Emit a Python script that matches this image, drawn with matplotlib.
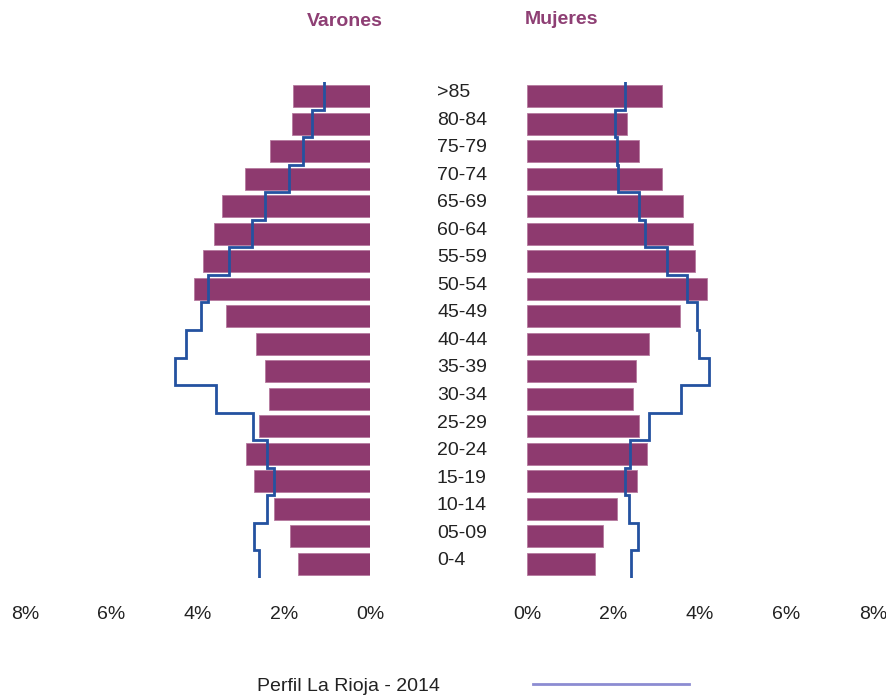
import numpy as np
import matplotlib
matplotlib.use('Agg')
import matplotlib.pyplot as plt
import matplotlib.transforms as mtransforms
from matplotlib.lines import Line2D

plt.rcParams['font.family'] = ['Liberation Sans', 'DejaVu Sans']

# grupos de edad, de abajo hacia arriba
edades = ['0-4', '05-09', '10-14', '15-19', '20-24', '25-29', '30-34', '35-39',
          '40-44', '45-49', '50-54', '55-59', '60-64', '65-69', '70-74',
          '75-79', '80-84', '>85']

# % de poblacion (barras)
varones = [1.67, 1.86, 2.23, 2.69, 2.88, 2.58, 2.34, 2.44, 2.65, 3.34,
           4.08, 3.87, 3.62, 3.43, 2.90, 2.32, 1.81, 1.79]
mujeres = [1.57, 1.76, 2.08, 2.55, 2.78, 2.59, 2.45, 2.52, 2.82, 3.54,
           4.17, 3.89, 3.84, 3.61, 3.13, 2.59, 2.31, 3.13]

# perfil de referencia (linea escalonada)
perfil_varones = [2.58, 2.69, 2.39, 2.23, 2.39, 2.71, 3.57, 4.52, 4.27, 3.92,
                  3.76, 3.27, 2.74, 2.44, 1.88, 1.55, 1.35, 1.07]
perfil_mujeres = [2.41, 2.57, 2.36, 2.27, 2.38, 2.82, 3.56, 4.21, 3.98, 3.93,
                  3.70, 3.24, 2.73, 2.59, 2.11, 2.08, 2.04, 2.27]

ticks = [0, 2, 4, 6, 8]
tick_labels = ['0%', '2%', '4%', '6%', '8%']

color_barra = '#8E3A6F'
color_linea = '#2452A0'
color_titulo = '#8E3F74'
color_texto = '#222222'

W, H = 886, 696
fig = plt.figure(figsize=(W / 100, H / 100), dpi=100)

y0 = 1 - 577.75 / H
alto = (577.75 - 82.25) / H
ax_v = fig.add_axes([25 / W, y0, 345 / W, alto])
ax_m = fig.add_axes([527 / W, y0, 346 / W, alto])

pos = np.arange(len(edades))


def escalon(valores):
    ys = np.column_stack([pos - 0.5, pos + 0.5]).ravel()
    xs = np.repeat(valores, 2)
    return xs, ys


for ax, datos, perfil in [(ax_v, varones, perfil_varones),
                          (ax_m, mujeres, perfil_mujeres)]:
    ax.barh(pos, datos, height=0.8, color=color_barra,
            edgecolor='#B67A9F', linewidth=0.6)
    xs, ys = escalon(perfil)
    ax.plot(xs, ys, color=color_linea, linewidth=2.0, solid_joinstyle='miter')
    ax.set_xlim(0, 8)
    ax.set_ylim(-0.5, len(edades) - 0.5)
    ax.set_xticks(ticks)
    ax.set_xticklabels(tick_labels)
    ax.set_yticks([])
    ax.tick_params(axis='x', length=0, pad=20, labelsize=14, labelcolor=color_texto)
    for s in ax.spines.values():
        s.set_visible(False)

ax_v.invert_xaxis()

trans = mtransforms.blended_transform_factory(fig.transFigure, ax_m.transData)
for i, et in enumerate(edades):
    fig.text(437 / W, i + 0.12, et, transform=trans, ha='left', va='center',
             fontsize=14, color=color_texto)

fig.text(345 / W, 1 - 22 / H, 'Varones', ha='center', va='center',
         fontsize=14, fontweight='bold', color=color_titulo)
fig.text(561 / W, 1 - 20 / H, 'Mujeres', ha='center', va='center',
         fontsize=14, fontweight='bold', color=color_titulo)

linea_ley = Line2D([], [], color='#8C8CD2', linewidth=2)
fig.legend([linea_ley], ['Perfil La Rioja - 2014'], loc='center',
           bbox_to_anchor=(473 / W, 1 - 686 / H), frameon=False,
           markerfirst=False, handlelength=8, handletextpad=4.8,
           fontsize=14, labelcolor=color_texto)

fig.savefig('out.png', dpi=100)
